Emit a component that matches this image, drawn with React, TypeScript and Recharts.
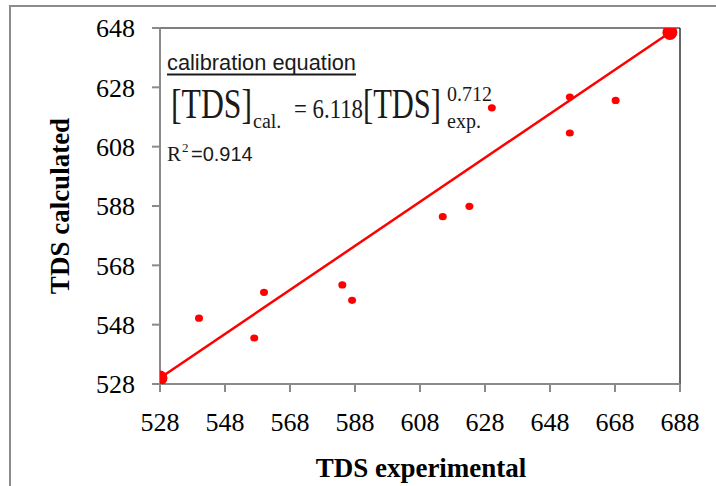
import { ScatterChart, Scatter, XAxis, YAxis, ReferenceLine, Label } from 'recharts'

const X_TICKS = [528, 548, 568, 588, 608, 628, 648, 668, 688]
const Y_TICKS = [528, 548, 568, 588, 608, 628, 648]

const TDS_EXP = [528, 540, 557, 560, 584.1, 587.1, 615, 623.2, 630.1, 654.1, 654.1, 668.2]
const TDS_CAL = [528.3, 550.2, 543.5, 558.9, 561.4, 556.2, 584.4, 587.9, 621.1, 624.7, 612.6, 623.6]

// ends of the fitted calibration line
const FIT_X = [528, 684.9]
const FIT_Y = [530, 646.5]

const points = TDS_EXP.map((x, i) => ({ x, y: TDS_CAL[i] }))
const fit = FIT_X.map((x, i) => ({ x, y: FIT_Y[i] }))

const RED = '#ff0000'
const SERIF = '"Liberation Serif", "Times New Roman", serif'
const SANS = '"Liberation Sans", Arial, sans-serif'

const dot = (p: any) => <ellipse cx={p.cx} cy={p.cy} rx={4} ry={3.6} fill={RED} />
const bigDot = (p: any) => <circle cx={p.cx} cy={p.cy} r={7.5} fill={RED} />

function YTitle(props: any) {
  const vb = props.viewBox || { x: 0, y: 28, width: 160, height: 356 }
  const cx = vb.x + 60
  const cy = vb.y + vb.height / 2
  return (
    <text x={cx} y={cy} transform={`rotate(-90, ${cx}, ${cy})`} textAnchor="middle" dominantBaseline="central"
      fontFamily={SERIF} fontWeight="bold" fontSize={27} fill="#000">
      TDS calculated
    </text>
  )
}

function XTitle(props: any) {
  const vb = props.viewBox || { x: 160, y: 384, width: 520, height: 102 }
  return (
    <text x={vb.x + vb.width / 2 + 1} y={477} textAnchor="middle"
      fontFamily={SERIF} fontWeight="bold" fontSize={27} fill="#000">
      TDS experimental
    </text>
  )
}

export default function App() {
  const tickStyle = { fontFamily: SERIF, fontSize: 26, fill: '#000' }
  return (
    <div style={{ position: 'absolute', left: 0, top: 0, width: 716, height: 486, background: '#fff' }}>
      <div style={{
        position: 'absolute', left: 9, top: 5, width: 707, height: 479,
        borderTop: '2px solid #8c8c8c', borderLeft: '2px solid #8c8c8c', borderBottom: '1px solid #d8d8d8',
      }} />
      <div style={{ position: 'absolute', left: 0, top: 0 }}>
        <ScatterChart width={716} height={486} margin={{ top: 28, right: 36, bottom: 0, left: 0 }}>
          <XAxis type="number" dataKey="x" domain={[528, 688]} ticks={X_TICKS} allowDataOverflow
            height={102} tickSize={8} tickMargin={21} tick={tickStyle}
            axisLine={{ stroke: '#8a8a8a', strokeWidth: 2 }} tickLine={{ stroke: '#8a8a8a', strokeWidth: 2 }}>
            <Label content={<XTitle />} />
          </XAxis>
          <YAxis type="number" dataKey="y" domain={[528, 648]} ticks={Y_TICKS} allowDataOverflow
            width={160} tickSize={8} tickMargin={17} tick={tickStyle}
            axisLine={{ stroke: '#8a8a8a', strokeWidth: 2 }} tickLine={{ stroke: '#8a8a8a', strokeWidth: 2 }}>
            <Label content={<YTitle />} />
          </YAxis>
          <ReferenceLine y={648} stroke="#000" strokeWidth={1.2} />
          <ReferenceLine x={688} stroke="#000" strokeWidth={1.2} />
          <Scatter data={points} shape={dot} isAnimationActive={false} />
          <Scatter data={fit} shape={bigDot} line={{ stroke: RED, strokeWidth: 2.5 }} isAnimationActive={false} />
        </ScatterChart>
      </div>
      <svg width={716} height={486} style={{ position: 'absolute', left: 0, top: 0, pointerEvents: 'none' }}>
        <g fill="#1a1a1a">
          <text x={167} y={70} fontFamily={SANS} fontSize={22} textLength={189} lengthAdjust="spacingAndGlyphs">
            calibration equation
          </text>
          <line x1={167} x2={356} y1={74.5} y2={74.5} stroke="#1a1a1a" strokeWidth={2} />
          <text x={171} y={118} fontFamily={SERIF} fontSize={42} textLength={81} lengthAdjust="spacingAndGlyphs">[TDS]</text>
          <text x={253} y={128} fontFamily={SERIF} fontSize={20}>cal.</text>
          <text x={294} y={118} fontFamily={SERIF} fontSize={27} textLength={69} lengthAdjust="spacingAndGlyphs">= 6.118</text>
          <text x={363} y={118} fontFamily={SERIF} fontSize={42} textLength={78} lengthAdjust="spacingAndGlyphs">[TDS]</text>
          <text x={447} y={101} fontFamily={SERIF} fontSize={20}>0.712</text>
          <text x={447} y={128} fontFamily={SERIF} fontSize={20}>exp.</text>
          <text x={167} y={161} fontFamily={SERIF} fontSize={21}>R</text>
          <text x={182} y={152} fontFamily={SERIF} fontSize={13}>2</text>
          <text x={191} y={161} fontFamily={SANS} fontSize={20}>=0.914</text>
        </g>
      </svg>
    </div>
  )
}
